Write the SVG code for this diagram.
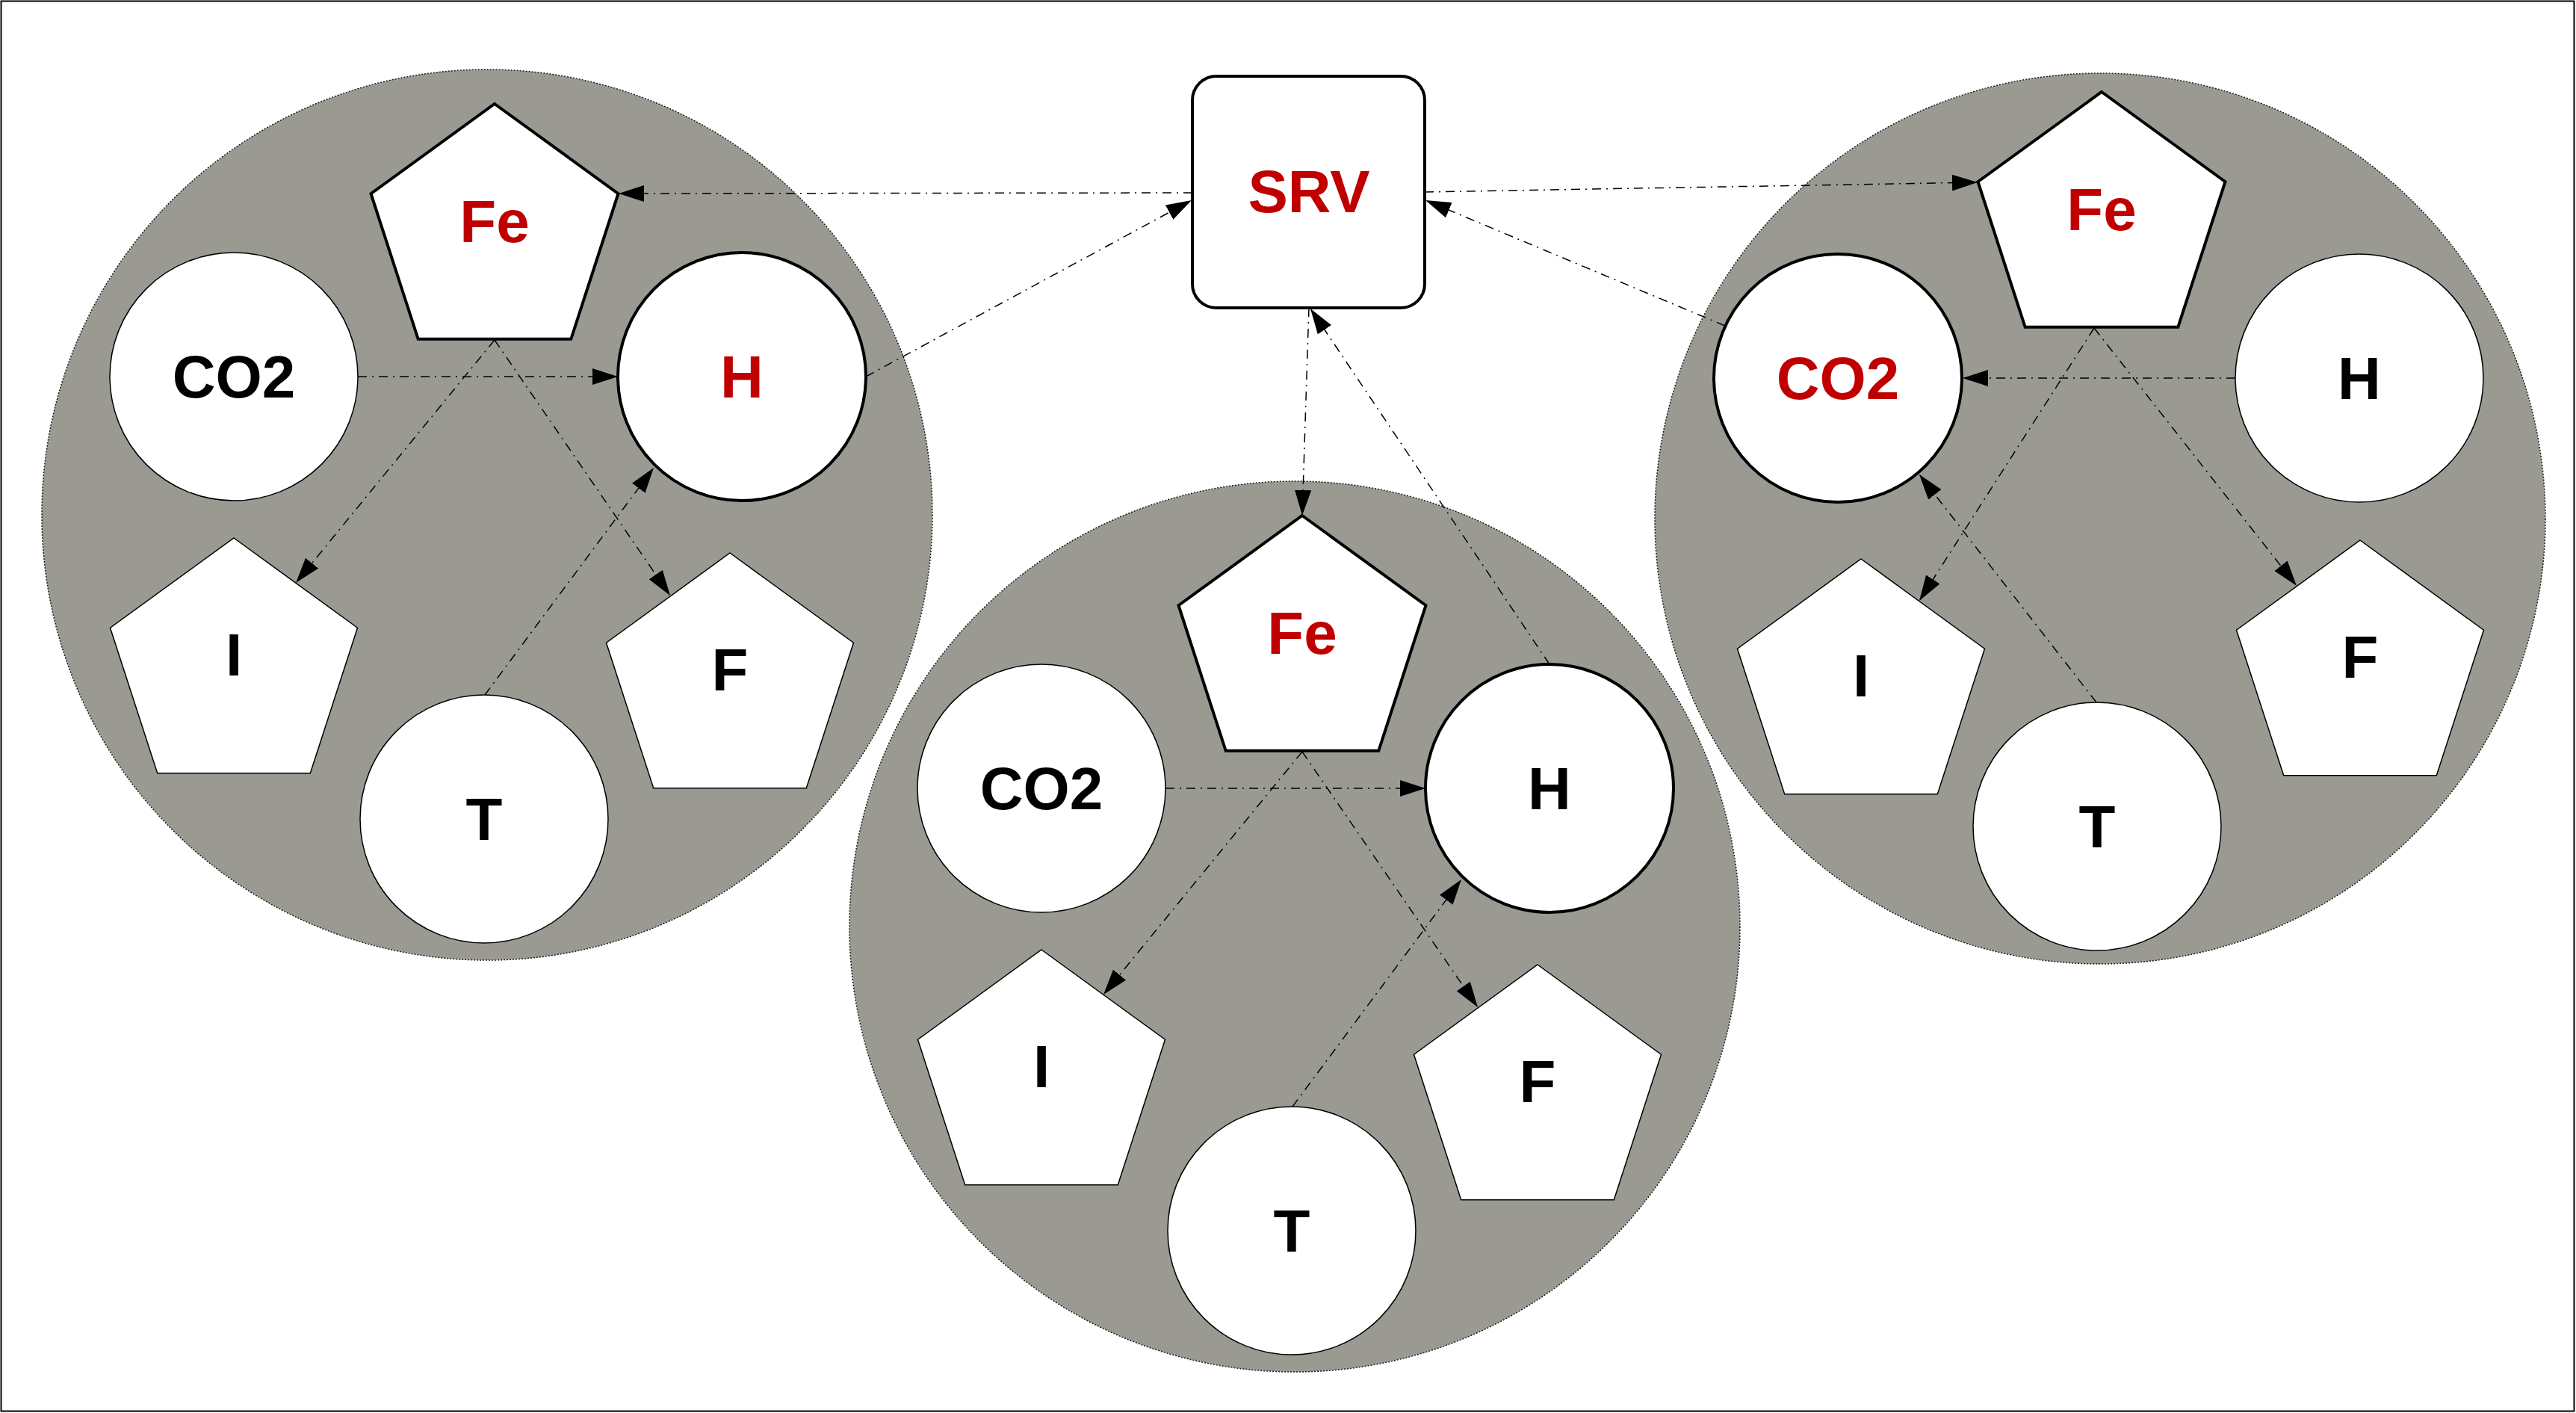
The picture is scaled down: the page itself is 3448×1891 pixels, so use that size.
<svg xmlns="http://www.w3.org/2000/svg" width="3448" height="1891" viewBox="0 0 3448 1891">
<defs>
<style>
.frame{fill:#fff;stroke:#000;stroke-width:2}
.zone{fill:#9a9a92;stroke:#1a1a1a;stroke-width:1.5;stroke-dasharray:2 2}
.n{fill:#fff;stroke:#000;stroke-width:1.5}
.hl{stroke-width:4}
.lbl{font-family:"Liberation Sans",Arial,sans-serif;font-weight:bold;font-size:80px;text-anchor:middle;fill:#000}
.red{fill:#C00000}
.e{fill:none;stroke:#000;stroke-width:1.5;stroke-dasharray:12 7 2 7;marker-end:url(#ah)}
</style>
<marker id="ah" markerUnits="userSpaceOnUse" markerWidth="34" markerHeight="22" refX="34" refY="11" orient="auto" viewBox="0 0 34 22"><path d="M0,0 L34,11 L0,22 z" fill="#000"/></marker>
</defs>
<rect class="frame" x="1.5" y="1.5" width="3444" height="1887"/>

<g id="zone-left"><circle class="zone" cx="652" cy="689" r="596"/></g>
<g id="zone-middle"><circle class="zone" cx="1733" cy="1240" r="596"/></g>
<g id="zone-right"><circle class="zone" cx="2811" cy="694" r="596"/></g>

<g id="srv"><rect class="n hl" x="1596" y="102" width="311" height="310" rx="32"/><text class="lbl red" x="1752" y="284">SRV</text></g>

<!-- left cluster -->
<g id="L-Fe"><polygon class="n hl" transform="translate(662,313)" points="0,-174 165.5,-53.8 102.3,140.8 -102.3,140.8 -165.5,-53.8"/><text class="lbl red" x="662" y="324">Fe</text></g>
<g id="L-CO2"><circle class="n" cx="313" cy="504" r="166"/><text class="lbl" x="313" y="532">CO2</text></g>
<g id="L-H"><circle class="n hl" cx="993" cy="504" r="166"/><text class="lbl red" x="993" y="532">H</text></g>
<g id="L-I"><polygon class="n" transform="translate(313,894)" points="0,-174 165.5,-53.8 102.3,140.8 -102.3,140.8 -165.5,-53.8"/><text class="lbl" x="313" y="904">I</text></g>
<g id="L-F"><polygon class="n" transform="translate(977,914)" points="0,-174 165.5,-53.8 102.3,140.8 -102.3,140.8 -165.5,-53.8"/><text class="lbl" x="977" y="924">F</text></g>
<g id="L-T"><circle class="n" cx="648" cy="1096" r="166"/><text class="lbl" x="648" y="1124">T</text></g>

<!-- middle cluster -->
<g id="M-Fe"><polygon class="n hl" transform="translate(1743,864)" points="0,-174 165.5,-53.8 102.3,140.8 -102.3,140.8 -165.5,-53.8"/><text class="lbl red" x="1743" y="875">Fe</text></g>
<g id="M-CO2"><circle class="n" cx="1394" cy="1055" r="166"/><text class="lbl" x="1394" y="1083">CO2</text></g>
<g id="M-H"><circle class="n hl" cx="2074" cy="1055" r="166"/><text class="lbl" x="2074" y="1083">H</text></g>
<g id="M-I"><polygon class="n" transform="translate(1394,1445)" points="0,-174 165.5,-53.8 102.3,140.8 -102.3,140.8 -165.5,-53.8"/><text class="lbl" x="1394" y="1455">I</text></g>
<g id="M-F"><polygon class="n" transform="translate(2058,1465)" points="0,-174 165.5,-53.8 102.3,140.8 -102.3,140.8 -165.5,-53.8"/><text class="lbl" x="2058" y="1475">F</text></g>
<g id="M-T"><circle class="n" cx="1729" cy="1647" r="166"/><text class="lbl" x="1729" y="1675">T</text></g>

<!-- right cluster -->
<g id="R-Fe"><polygon class="n hl" transform="translate(2813,297)" points="0,-174 165.5,-53.8 102.3,140.8 -102.3,140.8 -165.5,-53.8"/><text class="lbl red" x="2813" y="308">Fe</text></g>
<g id="R-CO2"><circle class="n hl" cx="2460" cy="506" r="166"/><text class="lbl red" x="2460" y="534">CO2</text></g>
<g id="R-H"><circle class="n" cx="3158" cy="506" r="166"/><text class="lbl" x="3158" y="534">H</text></g>
<g id="R-I"><polygon class="n" transform="translate(2491,922)" points="0,-174 165.5,-53.8 102.3,140.8 -102.3,140.8 -165.5,-53.8"/><text class="lbl" x="2491" y="932">I</text></g>
<g id="R-F"><polygon class="n" transform="translate(3159,897)" points="0,-174 165.5,-53.8 102.3,140.8 -102.3,140.8 -165.5,-53.8"/><text class="lbl" x="3159" y="907">F</text></g>
<g id="R-T"><circle class="n" cx="2807" cy="1106" r="166"/><text class="lbl" x="2807" y="1134">T</text></g>

<g id="connectors">
<line class="e" x1="662" y1="455" x2="396" y2="780"/>
<line class="e" x1="662" y1="455" x2="897" y2="797"/>
<line class="e" x1="479" y1="504" x2="827" y2="504"/>
<line class="e" x1="649" y1="930" x2="875" y2="626"/>
<line class="e" x1="1159" y1="504" x2="1595" y2="268"/>
<line class="e" x1="1596" y1="258" x2="828" y2="259"/>

<line class="e" x1="1743" y1="1006" x2="1477" y2="1331"/>
<line class="e" x1="1743" y1="1006" x2="1978" y2="1348"/>
<line class="e" x1="1560" y1="1055" x2="1908" y2="1055"/>
<line class="e" x1="1730" y1="1481" x2="1956" y2="1177"/>
<line class="e" x1="2074" y1="889" x2="1754" y2="413"/>
<line class="e" x1="1752" y1="412" x2="1743" y2="690"/>

<line class="e" x1="2803" y1="439" x2="2569" y2="804"/>
<line class="e" x1="2803" y1="439" x2="3074" y2="784"/>
<line class="e" x1="2992" y1="506" x2="2627" y2="506"/>
<line class="e" x1="2806" y1="940" x2="2569" y2="635"/>
<line class="e" x1="2309" y1="436" x2="1908" y2="268"/>
<line class="e" x1="1907" y1="257" x2="2647" y2="244"/>
</g>
</svg>
